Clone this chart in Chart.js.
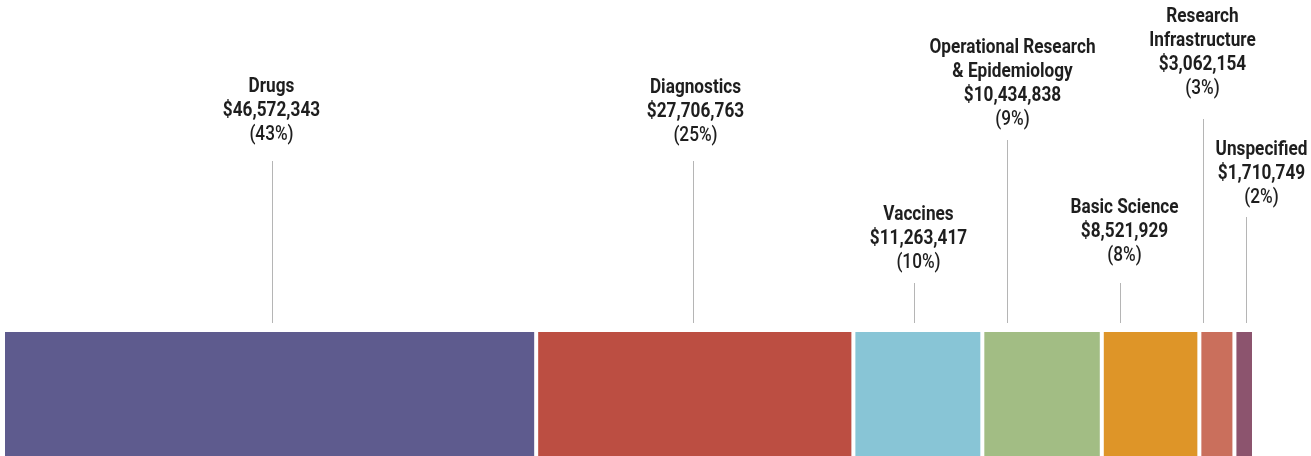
<!DOCTYPE html>
<html>
<head>
<meta charset="utf-8">
<script src="https://cdn.jsdelivr.net/npm/chart.js@4"></script>
<style>
  html, body { margin: 0; padding: 0; background: #fff; }
  #wrap { width: 1311px; height: 456px; position: relative; }
</style>
</head>
<body>
<div id="wrap"><canvas id="chart1"></canvas></div>
<script>
// data
const categories = ['Drugs', 'Diagnostics', 'Vaccines', 'Operational Research & Epidemiology', 'Basic Science', 'Research Infrastructure', 'Unspecified']
const amounts = [46572343, 27706763, 11263417, 10434838, 8521929, 3062154, 1710749]
const percentLabels = ['(43%)', '(25%)', '(10%)', '(9%)', '(8%)', '(3%)', '(2%)']
const nameLines = [['Drugs'], ['Diagnostics'], ['Vaccines'], ['Operational Research', '& Epidemiology'], ['Basic Science'], ['Research', 'Infrastructure'], ['Unspecified']]

const COLORS = ['#5e5b8e', '#bc4e42', '#88c5d6', '#a2bd84', '#de9528', '#ca6f5c', '#8c546e']

// label layout (pixels)
const leaderDx = [2, -2, -4, -35, -31, -14, 2]
const textDx = [-1, 2, 4, 5, 4, -1, 15]
const firstBaseline = [92, 93, 220, 53, 213, 22, 155]
const leaderTop = [161, 161, 283, 140, 283, 119, 217]

// no condensed font installed, so squeeze Roboto a bit
const FONT = 'Roboto, "DejaVu Sans", sans-serif'
const SQUEEZE = 0.86

const labelPlugin = {
    id: 'segmentLabels',
    afterDatasetsDraw(chart) {
        const ctx = chart.ctx
        const top = chart.chartArea.top
        ctx.save()
        chart.data.datasets.forEach((ds, i) => {
            const bar = chart.getDatasetMeta(i).data[0]
            const mid = (bar.x + bar.base) / 2
            const lx = Math.round(mid + leaderDx[i]) + 0.5

            ctx.strokeStyle = '#b5b5b5'
            ctx.lineWidth = 1
            ctx.beginPath()
            ctx.moveTo(lx, leaderTop[i])
            ctx.lineTo(lx, top - 9)
            ctx.stroke()

            const tx = lx + textDx[i]
            const lines = nameLines[i].map(t => ({ t, w: 'bold' }))
            lines.push({ t: '$' + amounts[i].toLocaleString('en-US'), w: 'bold' })
            lines.push({ t: percentLabels[i], w: '500' })

            ctx.fillStyle = '#1e1e1e'
            ctx.textAlign = 'center'
            ctx.textBaseline = 'alphabetic'
            lines.forEach((ln, k) => {
                ctx.save()
                ctx.translate(tx, firstBaseline[i] + k * 24)
                ctx.scale(SQUEEZE, 1)
                ctx.font = ln.w + ' 20px ' + FONT
                ctx.fillText(ln.t, 0, 0)
                ctx.restore()
            })
        })
        ctx.restore()
    }
}

const total = amounts.reduce((a, b) => a + b, 0)

const data = {
    labels: [''],
    datasets: categories.map((c, i) => ({
        label: c,
        data: [amounts[i]],
        backgroundColor: COLORS[i],
        borderColor: '#ffffff',
        borderWidth: { top: 0, bottom: 0, left: 2, right: 2 },
        borderSkipped: false,
        inflateAmount: 0,
        barPercentage: 1,
        categoryPercentage: 1,
        stack: 'all'
    }))
}

const options = {
    indexAxis: 'y',
    responsive: true,
    maintainAspectRatio: false,
    animation: false,
    layout: { padding: { left: 3, right: 57, top: 332, bottom: 0 } },
    plugins: {
        legend: { display: false },
        tooltip: { enabled: false }
    },
    scales: {
        x: { stacked: true, min: 0, max: total, display: false },
        y: { stacked: true, display: false }
    }
}

new Chart('chart1', { type: 'bar', data, options, plugins: [labelPlugin] })
</script>
</body>
</html>
